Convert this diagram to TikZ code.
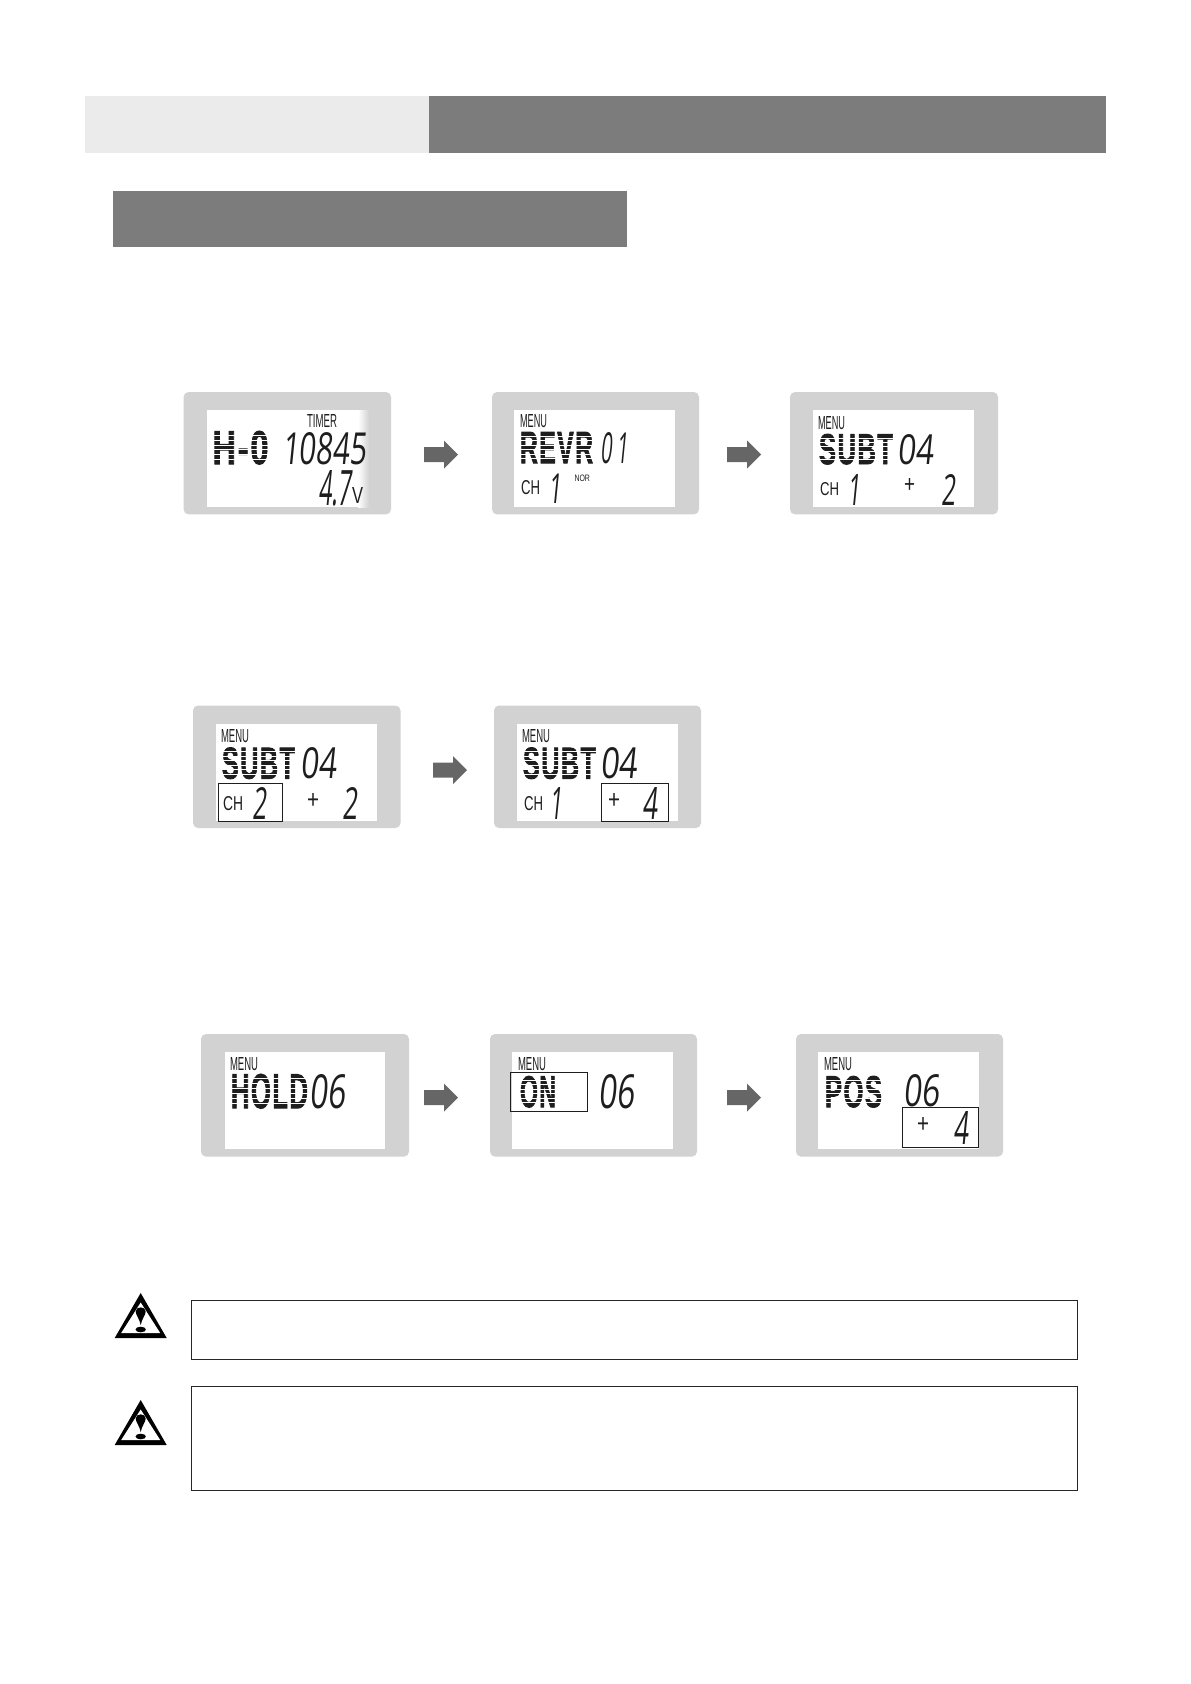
\documentclass[tikz,border=0pt]{standalone}
\usepackage{fontspec}
\setmainfont{Liberation Sans}
\newfontfamily\lcdthin{Open Sans}
\newfontfamily\lcdbold[UprightFont={* Bold},LetterSpace=6,FakeBold=2.2]{Liberation Sans}
\definecolor{bardark}{HTML}{7D7C7C}
\definecolor{barlight}{HTML}{EBEBEB}
\definecolor{panelgray}{HTML}{D2D2D2}
\definecolor{arrowgray}{HTML}{666666}
\definecolor{lcdink}{HTML}{1E1E1E}
\newcounter{tn}
\tikzset{
  lcdtext/.style={inner sep=0pt,outer sep=0pt,anchor=base west,text=lcdink},
  framebox/.style={draw=lcdink,line width=1pt,fill=none},
  notebox/.style={draw=black!85,line width=1pt,fill=white},
}
% plain fitted label: x0 y0 x1 y1 text
\newcommand{\lbl}[5]{%
  \stepcounter{tn}%
  \pgfmathsetlengthmacro{\fw}{#3-#1}\pgfmathsetlengthmacro{\fh}{#4-#2}%
  \node[lcdtext] (t\thetn) at (#1,#4) {\resizebox{\fw}{\fh}{#5}};}
% slanted seven-segment style number
\newcommand{\num}[5]{%
  \stepcounter{tn}%
  \pgfmathsetlengthmacro{\fw}{#3-#1}\pgfmathsetlengthmacro{\fh}{#4-#2}%
  \node[lcdtext,xslant=0.1] (t\thetn) at (#1,#4) {\resizebox{\fw}{\fh}{\lcdthin #5}};}
% dot-matrix word: x0 y0 x1 y1 text nchars (white row gaps over heavy letters)
\newcommand{\dm}[6]{%
  \stepcounter{tn}%
  \pgfmathsetlengthmacro{\fw}{#3-#1}\pgfmathsetlengthmacro{\fh}{#4-#2}%
  \node[lcdtext] (t\thetn) at (#1,#4) {\resizebox{\fw}{\fh}{\lcdbold #5}};
  \pgfmathsetmacro{\rh}{(#4-#2)/7}%
  \foreach \i in {1,...,6}{\draw[white,line width=.9pt] (#1-1.5,#2+\i*\rh) -- (#3+1.5,#2+\i*\rh);}
}
\newcommand{\panel}[7]{% name ox0 oy0 ox1 oy1 ix0 ix1
  \fill[panelgray,rounded corners=5pt] (#2,#3) rectangle (#4,#5);
  \fill[white] (#6,#3+18) rectangle (#7,#5-7.5);
  \coordinate (#1) at (#2,#3);}
\newcommand{\barrow}[2]{% x0 cy
  \fill[arrowgray] (#1,#2-7.5) -- (#1+20,#2-7.5) -- (#1+20,#2-14) -- (#1+34,#2) -- (#1+20,#2+14) -- (#1+20,#2+7.5) -- (#1,#2+7.5) -- cycle;}
\newcommand{\warn}[2]{% cx apex-y
  \fill[black,line join=round] (#1,#2) -- (#1+26,#2+45) -- (#1-26,#2+45) -- cycle;
  \fill[white] (#1,#2+9.5) -- (#1+19.5,#2+40) -- (#1-19.5,#2+40) -- cycle;
  \fill[black] (#1,#2+32) .. controls (#1-1,#2+26) and (#1-5,#2+22) .. (#1-5,#2+18.5) .. controls (#1-5,#2+13) and (#1+5,#2+13) .. (#1+5,#2+18.5) .. controls (#1+5,#2+22) and (#1+1,#2+26) .. (#1,#2+32) -- cycle;
  \fill[black] (#1,#2+36.5) ellipse (5.2pt and 2.8pt);}
\begin{document}
\begin{tikzpicture}[x=1pt,y=-1pt]
\useasboundingbox (0,0) rectangle (1191,1684);
\fill[white] (0,0) rectangle (1191,1684);
% header bars
\fill[barlight] (85,95.6) rectangle (428.5,152.5);
\fill[bardark] (428.5,95.6) rectangle (1106,152.5);
\fill[bardark] (113,191) rectangle (627,247);

% ---- row 1
\panel{pa}{183.6}{392}{391}{514.4}{207}{368}
\shade[left color=white,right color=panelgray] (358,410) rectangle (369,507);
\panel{pb}{492}{392}{699}{514.4}{514}{675}
\panel{pc}{790}{392}{998}{514.4}{813}{974}
\barrow{424}{454.5}
\barrow{727}{454.5}
\lbl{307}{414.5}{337}{427.5}{TIMER}
\dm{212.6}{431}{268.5}{464}{H-0}{3}
\num{282}{432}{366}{464}{10845}
\num{318}{470}{351}{505}{4.7}
\lbl{352}{487}{363}{503}{V}
\lbl{520}{414}{547}{427}{MENU}
\dm{520}{432}{593}{463}{REVR}{4}
\num{600}{432}{628}{463}{0 1}
\lbl{521}{480}{540}{494}{CH}
\num{548}{473.5}{561}{503}{1}
\lbl{574.5}{474.5}{590}{481}{NOR}
\lbl{818}{416}{845}{429}{MENU}
\dm{819}{434}{893}{464}{SUBT}{4}
\num{897}{434}{933}{464}{04}
\lbl{820}{482}{839}{495}{CH}
\num{847}{474}{860}{505}{1}
\lbl{904}{478}{915}{492}{+}
\num{941}{474}{955}{505}{2}

% ---- row 2
\panel{pd}{193}{705.5}{400.5}{828}{216}{377}
\panel{pe}{494}{705.5}{701}{828}{516.5}{677.6}
\barrow{433}{770}
\lbl{221}{729}{249}{742}{MENU}
\dm{222}{747.5}{295}{778.5}{SUBT}{4}
\num{300}{747.5}{336}{778.5}{04}
\lbl{223}{796}{243}{810}{CH}
\num{252}{787}{266}{819}{2}
\lbl{307}{793}{319}{808}{+}
\num{342}{787}{357}{819}{2}
\draw[framebox] (218,783) rectangle (282.5,821.5);
\lbl{522}{729}{550}{742}{MENU}
\dm{523}{747.5}{596}{778.5}{SUBT}{4}
\num{600}{747.5}{637}{778.5}{04}
\lbl{524}{796}{543}{810}{CH}
\num{549}{787}{562}{819}{1}
\lbl{608}{793}{620}{808}{+}
\num{642}{787}{657}{819}{4}
\draw[framebox] (601,783) rectangle (668,821.5);

% ---- row 3
\panel{pf}{201}{1034}{409}{1156.6}{224.5}{384.5}
\panel{pg}{490}{1034}{697}{1156.6}{512}{673}
\panel{ph}{796}{1034}{1003}{1156.6}{818}{979}
\barrow{424}{1097.5}
\barrow{727}{1097.5}
\lbl{230}{1057}{258}{1070}{MENU}
\dm{231}{1074}{308}{1108}{HOLD}{4}
\num{309}{1074}{345}{1108}{06}
\lbl{518}{1057}{546}{1070}{MENU}
\dm{520}{1076}{556}{1107}{ON}{2}
\num{598}{1074}{634}{1108}{06}
\draw[framebox] (510,1072) rectangle (587,1111.5);
\lbl{824}{1057}{852}{1070}{MENU}
\dm{825}{1076}{882}{1107}{POS}{3}
\num{903}{1074}{939}{1106}{06}
\lbl{917}{1117}{929}{1132}{+}
\num{953}{1111}{968}{1144}{4}
\draw[framebox] (902,1107) rectangle (978,1147);

% ---- notes
\warn{140.7}{1293}
\warn{140.7}{1400}
\draw[notebox] (191,1300.5) rectangle (1077,1359.5);
\draw[notebox] (191,1386) rectangle (1077,1490.5);
\end{tikzpicture}
\end{document}
